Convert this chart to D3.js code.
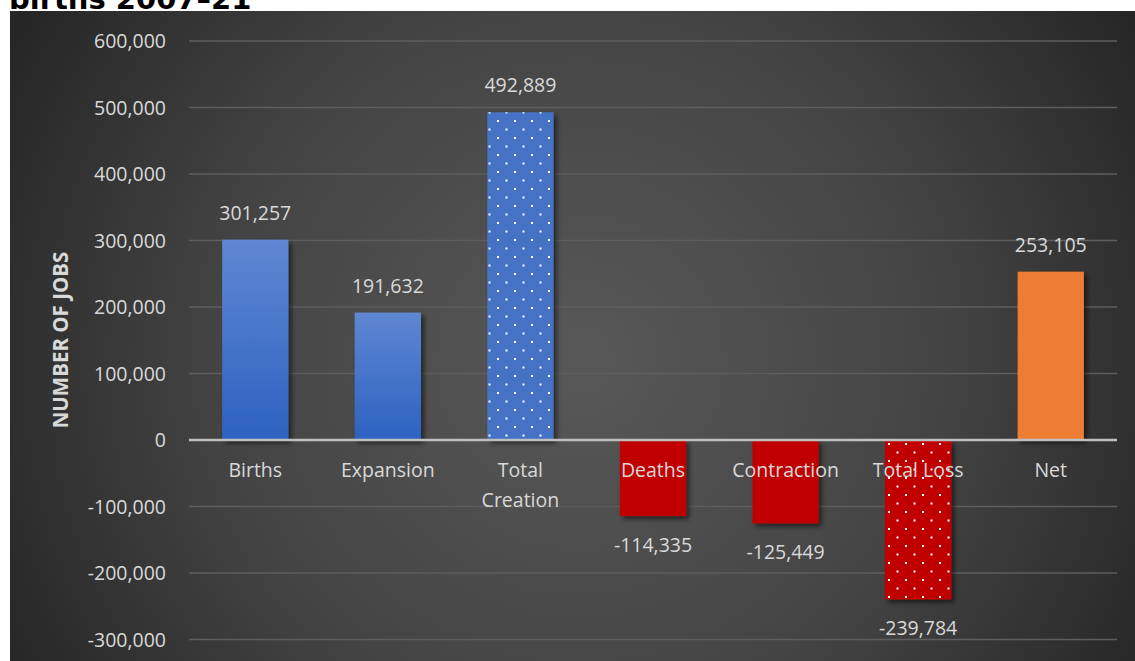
<!DOCTYPE html>
<html>
<head>
<meta charset="utf-8">
<script src="https://cdn.jsdelivr.net/npm/d3@7"></script>
<style>
  html, body { margin: 0; padding: 0; background: #ffffff; }
  svg { display: block; }
</style>
</head>
<body>
<svg id="chart" width="1135" height="661"></svg>
<script>
// Job creation and loss components, 2007–21
const categories = ["Births", "Expansion", "Total Creation", "Deaths", "Contraction", "Total Loss", "Net"];
const values = [301257, 191632, 492889, -114335, -125449, -239784, 253105];
const fillKinds = ["blueGrad", "blueGrad", "blueDots", "red", "red", "redDots", "orange"];
const yTicks = [-300000, -200000, -100000, 0, 100000, 200000, 300000, 400000, 500000, 600000];
const titleText = "births 2007–21";
const yAxisTitle = "NUMBER OF JOBS";

const W = 1135, H = 661;
const svg = d3.select("#chart");
const defs = svg.append("defs");

// Panel background: radial dark gray
const bg = defs.append("radialGradient").attr("id", "bgGrad")
  .attr("gradientUnits", "userSpaceOnUse")
  .attr("cx", 580).attr("cy", 360).attr("r", 650);
bg.append("stop").attr("offset", "0%").attr("stop-color", "#585858");
bg.append("stop").attr("offset", "55%").attr("stop-color", "#444444");
bg.append("stop").attr("offset", "100%").attr("stop-color", "#262626");

// Bar gradient (blue)
const bGrad = defs.append("linearGradient").attr("id", "blueGrad")
  .attr("x1", 0).attr("y1", 0).attr("x2", 0).attr("y2", 1);
bGrad.append("stop").attr("offset", "0%").attr("stop-color", "#5f87d2");
bGrad.append("stop").attr("offset", "100%").attr("stop-color", "#2c62c0");

// Dotted patterns
function dotPattern(id, base) {
  const p = defs.append("pattern").attr("id", id)
    .attr("patternUnits", "userSpaceOnUse")
    .attr("x", 0).attr("y", 0).attr("width", 17).attr("height", 17);
  p.append("rect").attr("width", 17).attr("height", 17).attr("fill", base);
  p.append("rect").attr("x", 4).attr("y", 1).attr("width", 2).attr("height", 2).attr("fill", "#ffffff");
  p.append("rect").attr("x", 12.5).attr("y", 9.5).attr("width", 2).attr("height", 2).attr("fill", "#ffffff");
}
dotPattern("blueDots", "#4472c4");
dotPattern("redDots", "#c00000");

// Soft shadow under bars
const sh = defs.append("filter").attr("id", "barShadow")
  .attr("x", "-20%").attr("y", "-20%").attr("width", "150%").attr("height", "150%");
sh.append("feDropShadow").attr("dx", 3).attr("dy", 3).attr("stdDeviation", 2.5)
  .attr("flood-color", "#000000").attr("flood-opacity", 0.55);

const fillFor = {
  blueGrad: "url(#blueGrad)",
  blueDots: "url(#blueDots)",
  red: "#c00000",
  redDots: "url(#redDots)",
  orange: "#ed7d31"
};

// Title (sits above the panel, partly hidden behind it)
svg.append("text")
  .attr("x", 9).attr("y", 9)
  .attr("font-family", "DejaVu Sans, sans-serif")
  .attr("font-weight", "bold")
  .attr("font-size", 29)
  .attr("fill", "#000000")
  .text(titleText);

// Panel
svg.append("rect").attr("x", 10).attr("y", 11).attr("width", W - 10).attr("height", H - 11)
  .attr("fill", "url(#bgGrad)");

const x = d3.scaleBand().domain(categories).range([189, 1117])
  .paddingInner(0.5).paddingOuter(0.25);
const y = d3.scaleLinear().domain([-300000, 600000]).range([639.5, 41]);

// Thousands separators with a plain hyphen for negatives
const comma = d3.format(",");
const fmt = v => (v < 0 ? "-" : "") + comma(Math.abs(v));
const textColor = "#d9d9d9";
const font = "Open Sans, Noto Sans, sans-serif";
const fs = 19.5;

// Gridlines
const grid = svg.append("g");
grid.selectAll("line").data(yTicks.filter(d => d !== 0)).join("line")
  .attr("x1", 189).attr("x2", 1117)
  .attr("y1", d => y(d)).attr("y2", d => y(d))
  .attr("stroke", "#5e5e5e").attr("stroke-width", 1.5);

// Y axis labels
const yAxis = d3.axisLeft(y).tickValues(yTicks).tickFormat(fmt).tickSize(0).tickPadding(0);
const yg = svg.append("g").attr("transform", "translate(166,0)").call(yAxis);
yg.select(".domain").remove();
yg.selectAll("text")
  .attr("fill", textColor).attr("font-family", font).attr("font-size", fs)
  .attr("dy", "0.35em");

// Axis title
svg.append("text")
  .attr("transform", `translate(68,${y(0) - 100}) rotate(-90)`)
  .attr("text-anchor", "middle")
  .attr("font-family", font).attr("font-weight", "bold").attr("font-size", 20.5)
  .attr("fill", textColor)
  .text(yAxisTitle);

// Bars
const data = categories.map((c, i) => ({ c, v: values[i], k: fillKinds[i] }));
svg.append("g").selectAll("rect").data(data).join("rect")
  .attr("x", d => x(d.c))
  .attr("width", x.bandwidth())
  .attr("y", d => Math.min(y(d.v), y(0)))
  .attr("height", d => Math.abs(y(d.v) - y(0)))
  .attr("fill", d => fillFor[d.k])
  .attr("filter", "url(#barShadow)");

// Zero line
svg.append("line")
  .attr("x1", 189).attr("x2", 1117).attr("y1", y(0)).attr("y2", y(0))
  .attr("stroke", "#bfbfbf").attr("stroke-width", 2.5);

// Category labels
const catG = svg.append("g");
data.forEach(d => {
  const words = d.c === "Total Creation" ? ["Total", "Creation"] : [d.c];
  const t = catG.append("text")
    .attr("x", x(d.c) + x.bandwidth() / 2).attr("y", y(0) + 37)
    .attr("text-anchor", "middle")
    .attr("font-family", font).attr("font-size", fs)
    .attr("fill", textColor);
  words.forEach((w, i) => {
    t.append("tspan").attr("x", x(d.c) + x.bandwidth() / 2)
      .attr("dy", i === 0 ? 0 : 30).text(w);
  });
});

// Value labels
svg.append("g").selectAll("text").data(data).join("text")
  .attr("x", d => x(d.c) + x.bandwidth() / 2)
  .attr("y", d => d.v >= 0 ? y(d.v) - 20 : y(d.v) + 36)
  .attr("text-anchor", "middle")
  .attr("font-family", font).attr("font-size", fs)
  .attr("fill", textColor)
  .text(d => fmt(d.v));
</script>
</body>
</html>
